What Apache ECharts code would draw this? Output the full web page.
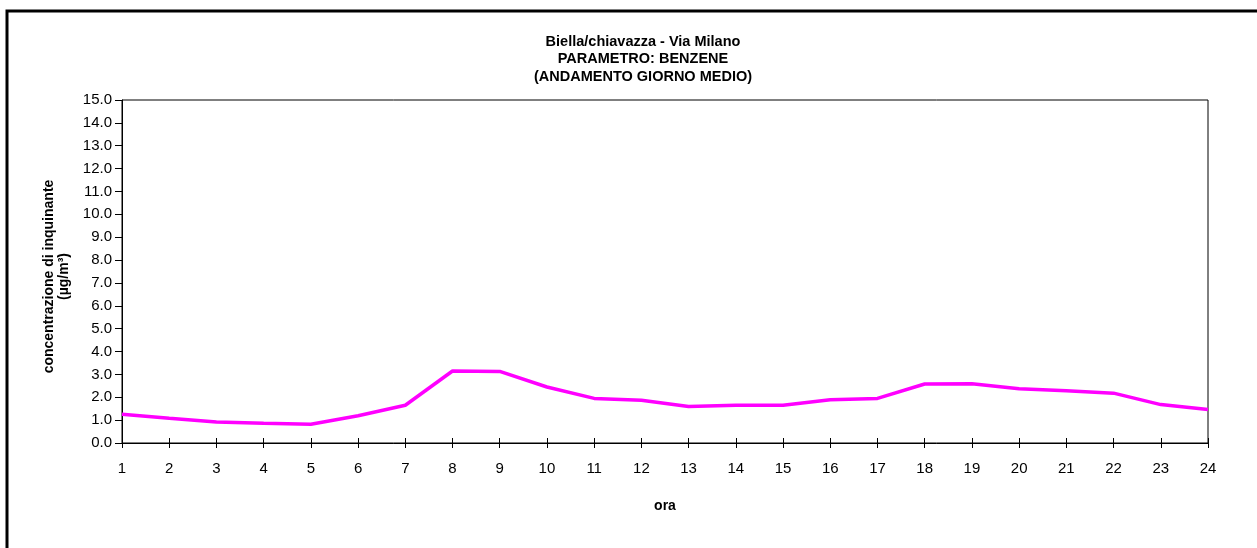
<!DOCTYPE html>
<html>
<head>
<meta charset="utf-8">
<title>Biella/chiavazza - Via Milano - Benzene</title>
<script src="https://cdn.jsdelivr.net/npm/echarts@6/dist/echarts.min.js"></script>
<style>
  html, body { margin: 0; padding: 0; background: #fff; }
  #chart { width: 1257px; height: 548px; }
</style>
</head>
<body>
<div id="chart"></div>
<script>
// hours of the day
var hours = ['1','2','3','4','5','6','7','8','9','10','11','12','13','14','15','16','17','18','19','20','21','22','23','24'];
// benzene, average day (µg/m³)
var benzene = [1.26, 1.08, 0.92, 0.86, 0.82, 1.19, 1.65, 3.15, 3.13, 2.45, 1.95, 1.87, 1.60, 1.65, 1.65, 1.89, 1.95, 2.58, 2.59, 2.37, 2.28, 2.18, 1.68, 1.46];
var titleLines = ['Biella/chiavazza - Via Milano', 'PARAMETRO: BENZENE', '(ANDAMENTO GIORNO MEDIO)'];

var font = '"Liberation Sans", Arial, sans-serif';
var chart = echarts.init(document.getElementById('chart'));

chart.setOption({
  animation: false,
  textStyle: { fontFamily: font },
  title: {
    text: titleLines.join('\n'),
    left: 638,
    top: 28,
    textAlign: 'center',
    textStyle: { fontSize: 14.5, fontWeight: 'bold', color: '#000', lineHeight: 17.5, fontFamily: font }
  },
  graphic: [{
    type: 'rect',
    shape: { x: 7, y: 11, width: 1400, height: 700 },
    style: { fill: 'none', stroke: '#000', lineWidth: 3 },
    silent: true
  }],
  grid: {
    left: 122, right: 49, top: 100, bottom: 105,
    show: true, borderColor: '#000', borderWidth: 1, backgroundColor: 'transparent'
  },
  xAxis: [{
    type: 'category',
    data: hours,
    boundaryGap: false,
    name: 'ora',
    nameLocation: 'middle',
    nameGap: 56,
    nameTextStyle: { fontSize: 14, fontWeight: 'bold', color: '#000' },
    axisLine: { lineStyle: { color: '#000', width: 1 } },
    axisTick: { show: true, length: 5, lineStyle: { color: '#000' } },
    axisLabel: { color: '#000', fontSize: 15, margin: 18 },
    splitLine: { show: false }
  }, {
    // inner half of the crossing ticks
    type: 'category',
    data: hours,
    boundaryGap: false,
    position: 'bottom',
    axisLine: { show: false },
    axisTick: { show: true, inside: true, length: 5, lineStyle: { color: '#000' } },
    axisLabel: { show: false },
    splitLine: { show: false }
  }],
  yAxis: {
    type: 'value',
    min: 0, max: 15, interval: 1,
    name: 'concentrazione di inquinante\n(µg/m³)',
    nameLocation: 'middle',
    nameRotate: 90,
    nameGap: 48,
    nameTextStyle: { fontSize: 14, fontWeight: 'bold', color: '#000', lineHeight: 15, padding: [0, 10, 0, 0] },
    axisLine: { show: true, lineStyle: { color: '#000', width: 1 } },
    axisTick: { show: true, length: 7, lineStyle: { color: '#000' } },
    axisLabel: { color: '#000', fontSize: 15, margin: 10, formatter: function (v) { return v.toFixed(1); } },
    splitLine: { show: false }
  },
  series: [{
    type: 'line',
    data: benzene,
    showSymbol: false,
    symbol: 'none',
    lineStyle: { color: '#ff00ff', width: 3.5 },
    itemStyle: { color: '#ff00ff' }
  }]
});
</script>
</body>
</html>
